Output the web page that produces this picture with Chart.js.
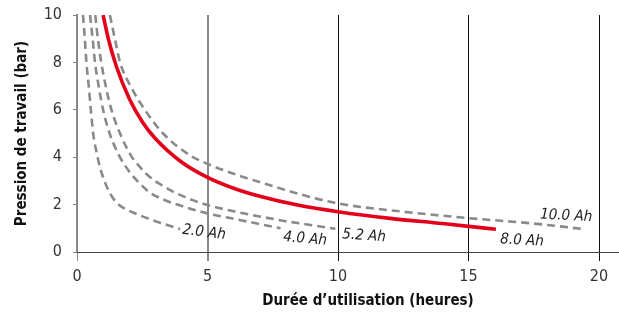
<!DOCTYPE html>
<html>
<head>
<meta charset="utf-8">
<script src="https://cdn.jsdelivr.net/npm/chart.js@4.4.1/dist/chart.umd.min.js"></script>
<style>
html,body{margin:0;padding:0;background:#fff;}
#wrap{width:619px;height:313px;}
</style>
</head>
<body>
<div id="wrap"><canvas id="c" width="619" height="313"></canvas></div>
<script>
// ---- data ----
const xTicks = [0, 5, 10, 15, 20];
const yTicks = [0, 2, 4, 6, 8, 10];

const ah20x = [0.23, 0.3, 0.36, 0.45, 0.53, 0.62, 0.75, 0.9, 1.05, 1.25, 1.5, 1.8, 2.3, 2.8, 3.4, 3.95];
const ah20y = [10, 9, 8, 7, 6, 5, 4.2, 3.5, 3.0, 2.5, 2.1, 1.85, 1.6, 1.38, 1.16, 0.97];

const ah40x = [0.5, 0.6, 0.69, 0.83, 1.0, 1.25, 1.6, 2.0, 2.4, 2.8, 3.3, 3.9, 5, 6, 7, 7.8];
const ah40y = [10, 9, 8, 7, 6, 5, 4.1, 3.4, 2.9, 2.5, 2.22, 1.98, 1.63, 1.4, 1.18, 1.0];

const ah52x = [0.7, 0.8, 0.93, 1.1, 1.32, 1.65, 2.05, 2.4, 2.8, 3.3, 3.8, 4.4, 5, 6, 7, 8, 9, 9.9];
const ah52y = [10, 9, 8, 7, 6, 5, 4.1, 3.6, 3.15, 2.78, 2.48, 2.2, 1.98, 1.72, 1.5, 1.3, 1.13, 0.98];

const ah80x = [1.0, 1.2, 1.5, 2.0, 2.5, 3.0, 4.0, 5.0, 6.0, 7.0, 8.5, 10, 12, 14, 16.05];
const ah80y = [10, 9.0, 7.86, 6.48, 5.5, 4.79, 3.8, 3.15, 2.69, 2.35, 1.97, 1.7, 1.42, 1.2, 0.96];

const ah100x = [1.26, 1.45, 1.65, 2.05, 2.6, 3.3, 4.3, 5, 6, 7.3, 8.5, 10, 12.5, 15, 17.5, 19.4];
const ah100y = [10, 9, 8, 7, 6, 5, 4.1, 3.72, 3.3, 2.85, 2.45, 2.05, 1.7, 1.43, 1.2, 0.97];

const seriesNames = ['2.0 Ah', '4.0 Ah', '5.2 Ah', '8.0 Ah', '10.0 Ah'];

const xTitle = 'Durée d’utilisation (heures)';
const yTitle = 'Pression de travail (bar)';

// ---- build ----
function pts(xs, ys){ return xs.map((x,i)=>({x:x, y:ys[i]})); }
const GRAY = '#8a8a8a', RED = '#e3001b';
function dashed(name, xs, ys){
  return {label:name, data:pts(xs,ys), showLine:true, borderColor:GRAY, borderWidth:2.6,
          borderDash:[8,5], pointRadius:0, cubicInterpolationMode:'monotone', fill:false};
}
const datasets = [
  dashed(seriesNames[0], ah20x, ah20y),
  dashed(seriesNames[1], ah40x, ah40y),
  dashed(seriesNames[2], ah52x, ah52y),
  {label:seriesNames[3], data:pts(ah80x,ah80y), showLine:true, borderColor:RED, borderWidth:3.6,
   pointRadius:0, cubicInterpolationMode:'monotone', fill:false},
  dashed(seriesNames[4], ah100x, ah100y)
];

// curve labels anchored in data space
const curveLabels = [
  {text:seriesNames[0], x:4.87, y:0.82, rot:7},
  {text:seriesNames[1], x:8.74, y:0.55, rot:5},
  {text:seriesNames[2], x:11.0, y:0.68, rot:4},
  {text:seriesNames[3], x:17.05, y:0.48, rot:3},
  {text:seriesNames[4], x:18.74, y:1.52, rot:3}
];

const FONT = '"Liberation Sans Narrow", "DejaVu Sans Condensed", "Roboto", sans-serif';

const labelPlugin = {
  id:'curveLabels',
  afterDatasetsDraw(chart){
    const ctx = chart.ctx, xs = chart.scales.x, ys = chart.scales.y;
    ctx.save();
    ctx.font = 'italic 15px ' + FONT;
    ctx.fillStyle = '#222';
    ctx.textAlign = 'center';
    ctx.textBaseline = 'middle';
    curveLabels.forEach(l=>{
      ctx.save();
      ctx.translate(xs.getPixelForValue(l.x), ys.getPixelForValue(l.y));
      ctx.rotate(l.rot*Math.PI/180);
      ctx.fillText(l.text, 0, 0);
      ctx.restore();
    });
    ctx.restore();
  }
};

// x axis baseline running to the right edge of the canvas, and the x title
const baselinePlugin = {
  id:'baseline',
  afterDraw(chart){
    const ctx = chart.ctx, ys = chart.scales.y, a = chart.chartArea;
    const py = Math.round(ys.getPixelForValue(0)) + 0.5;
    ctx.save();
    ctx.strokeStyle = '#444';
    ctx.lineWidth = 1.2;
    ctx.beginPath();
    ctx.moveTo(a.left, py);
    ctx.lineTo(chart.width, py);
    ctx.stroke();
    ctx.font = 'bold 15px ' + FONT;
    ctx.fillStyle = '#111';
    ctx.textAlign = 'center';
    ctx.textBaseline = 'middle';
    ctx.fillText(xTitle, (a.left + a.right) / 2 + 30, a.bottom + 49);
    ctx.restore();
  }
};

new Chart(document.getElementById('c'), {
  type:'scatter',
  data:{datasets:datasets},
  plugins:[labelPlugin, baselinePlugin],
  options:{
    responsive:false,
    animation:false,
    layout:{padding:{top:15, right:20, left:9, bottom:2}},
    plugins:{legend:{display:false}, tooltip:{enabled:false}},
    scales:{
      x:{
        type:'linear', min:0, max:20,
        afterBuildTicks(s){ s.ticks = xTicks.map(v=>({value:v})); },
        afterFit(s){ s.height = 59; s.paddingLeft = 0; s.paddingRight = 0; },
        border:{display:false},
        grid:{drawOnChartArea:true, drawTicks:true, tickLength:9,
              color:(c)=> (c.tick && (c.tick.value===0 || c.tick.value===5)) ? '#888' : '#111',
              lineWidth:(c)=> (c.tick && c.tick.value===5) ? 2 : 1},
        ticks:{color:'#333', font:{family:FONT, size:16}, padding:6},
        title:{display:false}
      },
      y:{
        type:'linear', min:0, max:10,
        afterBuildTicks(s){ s.ticks = yTicks.map(v=>({value:v})); },
        afterFit(s){ s.width = 68; s.paddingTop = 0; s.paddingBottom = 0; },
        border:{display:true, color:'#888', width:2},
        grid:{drawOnChartArea:false, drawTicks:true, tickLength:4, color:'#888'},
        ticks:{color:'#333', font:{family:FONT, size:16}, padding:11},
        title:{display:true, text:yTitle, color:'#111', font:{family:FONT, size:15, weight:'bold'}, padding:{bottom:4}}
      }
    }
  }
});
</script>
</body>
</html>
